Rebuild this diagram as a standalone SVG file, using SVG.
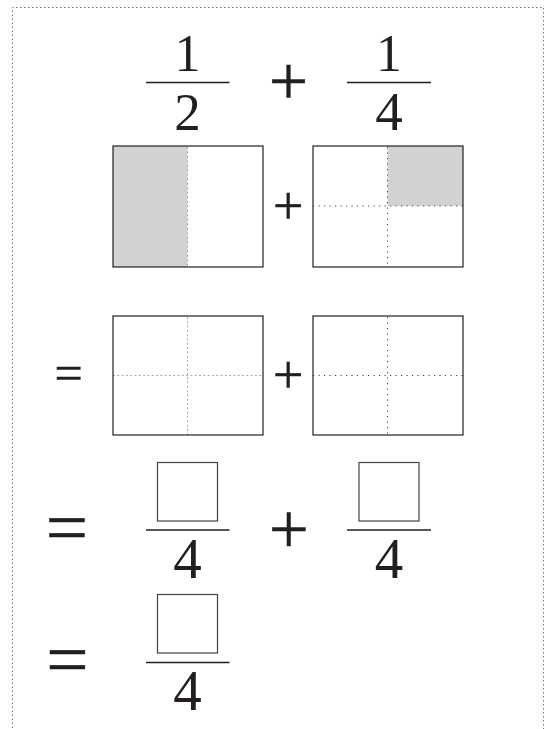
<svg xmlns="http://www.w3.org/2000/svg" width="546" height="729" viewBox="0 0 546 729">
<style>
.t{font-family:"Liberation Serif","Times New Roman",serif;fill:#231f20;text-anchor:middle}
.op{font-family:"Liberation Serif","Times New Roman",serif;fill:#231f20;text-anchor:middle;stroke:#231f20;stroke-width:0.5}
.box{fill:none;stroke:#231f20;stroke-width:1.2}
.ans{fill:#fff;stroke:#444;stroke-width:1.2}
.bar{stroke:#231f20;stroke-width:1.7}
.shade{fill:#d1d2d4}
.dk{stroke:#444;stroke-width:1;stroke-dasharray:1.2 4.3;fill:none}
.lt{stroke:#aaa;stroke-width:1;stroke-dasharray:2 2.3;fill:none}
.md{stroke:#999;stroke-width:1;stroke-dasharray:1.5 3;fill:none}
</style>
<rect width="546" height="729" fill="#fff"/>
<path d="M12.5 740 V7.5 H543.5 V740" fill="none" stroke="#777" stroke-width="1" stroke-dasharray="1.5 2.5"/>

<g id="row1">
  <text class="t" x="187.5" y="71" font-size="52">1</text>
  <line class="bar" x1="146" y1="82.5" x2="229.5" y2="82.5"/>
  <text class="t" x="187.5" y="129.5" font-size="53">2</text>
  <text class="op" x="288.5" y="105" font-size="70">+</text>
  <text class="t" x="389" y="71" font-size="52">1</text>
  <line class="bar" x1="347" y1="82.5" x2="431" y2="82.5"/>
  <text class="t" x="389" y="129.5" font-size="55">4</text>
</g>

<g id="row2">
  <g id="half">
    <rect class="shade" x="113" y="146" width="74.5" height="121"/>
    <line class="md" x1="187.5" y1="147" x2="187.5" y2="267"/>
    <rect class="box" x="113" y="146" width="150" height="121"/>
  </g>
  <text class="op" x="288.3" y="223.5" font-size="54">+</text>
  <g id="quarter">
    <rect class="shade" x="387.5" y="146" width="75.5" height="60"/>
    <line class="dk" x1="387.5" y1="147" x2="387.5" y2="267"/>
    <line class="dk" x1="313" y1="206" x2="463" y2="206"/>
    <rect class="box" x="313" y="146" width="150" height="121"/>
  </g>
</g>

<g id="row3">
  <text class="op" x="68.5" y="389.5" font-size="50">=</text>
  <g id="grid1">
    <line class="lt" x1="187.5" y1="317" x2="187.5" y2="435"/>
    <line class="lt" x1="113" y1="375.5" x2="263" y2="375.5"/>
    <rect class="box" x="113" y="316" width="150" height="119"/>
  </g>
  <text class="op" x="288.3" y="392.5" font-size="54">+</text>
  <g id="grid2">
    <line class="dk" x1="387.5" y1="317" x2="387.5" y2="435"/>
    <line class="dk" x1="313" y1="375.5" x2="463" y2="375.5"/>
    <rect class="box" x="313" y="316" width="150" height="119"/>
  </g>
</g>

<g id="row4">
  <text class="op" x="67" y="552" font-size="75">=</text>
  <rect class="ans" x="157.5" y="462.5" width="60" height="58.5"/>
  <line class="bar" x1="146" y1="530" x2="229.5" y2="530"/>
  <text class="t" x="187.5" y="577.5" font-size="57">4</text>
  <text class="op" x="288.7" y="553" font-size="71">+</text>
  <rect class="ans" x="359" y="462.5" width="60" height="58.5"/>
  <line class="bar" x1="347" y1="530" x2="431" y2="530"/>
  <text class="t" x="389" y="577.5" font-size="57">4</text>
</g>

<g id="row5">
  <text class="op" x="67.5" y="684" font-size="75">=</text>
  <rect class="ans" x="157.5" y="594.5" width="60" height="58.5"/>
  <line class="bar" x1="146" y1="662.5" x2="229.5" y2="662.5"/>
  <text class="t" x="187.5" y="709.5" font-size="57">4</text>
</g>
</svg>
